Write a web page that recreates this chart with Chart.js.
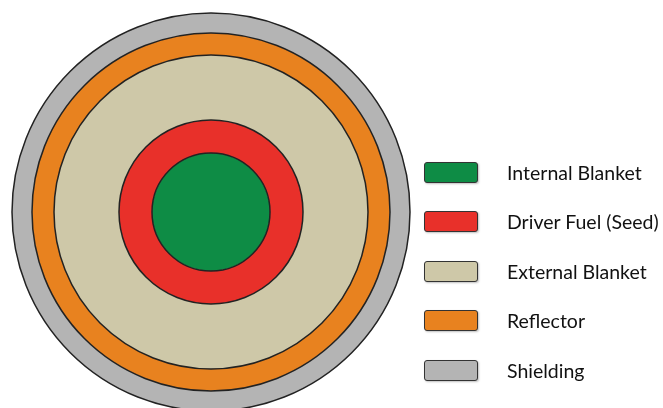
<!DOCTYPE html>
<html>
<head>
<meta charset="utf-8">
<script src="https://cdn.jsdelivr.net/npm/chart.js@4/dist/chart.umd.min.js"></script>
<style>
  html, body { margin: 0; padding: 0; background: #fff; overflow: hidden; }
  #wrap { position: relative; width: 663px; height: 408px; }
  #legend { position: absolute; left: 0; top: 0; }
  .item { position: absolute; left: 424px; height: 22px; }
  .box {
    position: absolute; left: 0; top: 0; width: 52px; height: 19px;
    border: 1.5px solid #333; border-radius: 3px;
    box-shadow: 1px 1px 2px rgba(0,0,0,0.25);
  }
  .lbl {
    position: absolute; left: 83px; top: -1px; white-space: nowrap;
    font-family: Lato, sans-serif; font-size: 19.5px; color: #111; line-height: 24px;
  }
</style>
</head>
<body>
<div id="wrap">
  <canvas id="core" width="663" height="408"></canvas>
  <div id="legend"></div>
</div>
<script>
// capas del núcleo, de dentro hacia fuera
const layerNames = ['Internal Blanket', 'Driver Fuel (Seed)', 'External Blanket', 'Reflector', 'Shielding'];
// radio exterior de cada capa (unidades relativas)
const outerRadii = [59, 92, 157, 179, 199];
const layerColors = ['#0e8c45', '#e8302a', '#cec8a8', '#e8821f', '#b4b4b4'];

// espesor de cada anillo = radio exterior - radio interior
const thickness = outerRadii.map((r, i) => r - (i > 0 ? outerRadii[i - 1] : 0));

// pie: el dataset 0 es el anillo más externo
const datasets = layerNames.map((name, i) => ({
    label: name,
    data: [1],
    weight: thickness[i],
    backgroundColor: layerColors[i],
    borderWidth: 0
})).reverse();

// bordes de cada anillo como círculos completos (sin la costura radial del arco)
const ringBorders = {
    id: 'ringBorders',
    afterDatasetsDraw(chart) {
        const ctx = chart.ctx;
        ctx.save();
        ctx.strokeStyle = '#222';
        ctx.lineWidth = 1.5;
        chart.data.datasets.forEach((ds, i) => {
            const arc = chart.getDatasetMeta(i).data[0];
            ctx.beginPath();
            ctx.arc(arc.x, arc.y, arc.outerRadius, 0, Math.PI * 2);
            ctx.stroke();
        });
        ctx.restore();
    }
};

new Chart(document.getElementById('core'), {
    type: 'pie',
    data: {
        labels: ['capa'],
        datasets: datasets
    },
    options: {
        responsive: false,
        animation: false,
        radius: outerRadii[outerRadii.length - 1],
        layout: { padding: { left: 0, right: 241, top: 16, bottom: 0 } },
        plugins: {
            legend: { display: false },
            tooltip: { enabled: false }
        },
        events: []
    },
    plugins: [ringBorders]
});

// leyenda a la derecha
const legend = document.getElementById('legend');
layerNames.forEach((name, i) => {
    const item = document.createElement('div');
    item.className = 'item';
    item.style.top = (161.5 + i * 49.5) + 'px';
    const box = document.createElement('div');
    box.className = 'box';
    box.style.background = layerColors[i];
    const lbl = document.createElement('div');
    lbl.className = 'lbl';
    lbl.textContent = name;
    item.appendChild(box);
    item.appendChild(lbl);
    legend.appendChild(item);
});
</script>
</body>
</html>
